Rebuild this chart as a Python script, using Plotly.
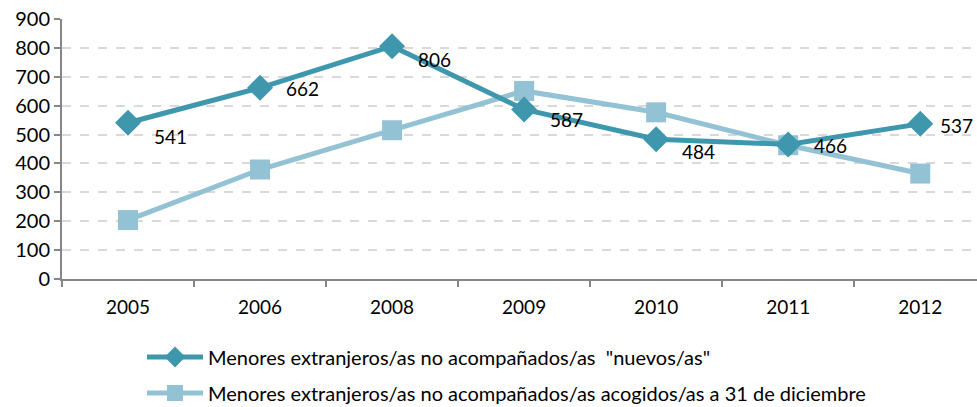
import plotly.graph_objects as go

years = ["2005", "2006", "2008", "2009", "2010", "2011", "2012"]
nuevos = [541, 662, 806, 587, 484, 466, 537]
acogidos = [204, 379, 515, 651, 577, 463, 365]
# label offsets (px) for the data labels of "nuevos"
label_dx = [42, 42, 42, 42, 42, 42, 36]
label_drop = [14, 1, 13, 10, 12, 1, 2]

name1 = 'Menores extranjeros/as no acompañados/as  "nuevos/as"'
name2 = "Menores extranjeros/as no acompañados/as acogidos/as a 31 de diciembre"

c1 = "#3F97AE"
c2 = "#92C2D4"
font = "Lato, Open Sans, sans-serif"

W, H = 977, 407
L, T, B = 62, 19, 128
PH = H - T - B
PW = W - L


def py(pix):
    return (H - B - pix) / PH


def px(pix):
    return (pix - L) / PW


fig = go.Figure()
fig.add_trace(go.Scatter(
    x=years, y=acogidos, name=name2, mode="lines+markers",
    line=dict(color=c2, width=5),
    marker=dict(symbol="square", size=20, color=c2),
    legend="legend2", cliponaxis=False,
))
fig.add_trace(go.Scatter(
    x=years, y=nuevos, name=name1, mode="lines+markers",
    line=dict(color=c1, width=5),
    marker=dict(symbol="diamond", size=20, color=c1),
    legend="legend", cliponaxis=False,
))

for i, (v, dx, d) in enumerate(zip(nuevos, label_dx, label_drop)):
    fig.add_annotation(x=i, y=v, xref="x", yref="y", text=str(v), showarrow=False,
                       xshift=dx, yshift=-d,
                       font=dict(family=font, size=19, color="#000000"))

fig.update_layout(
    width=W, height=H,
    margin=dict(l=L, r=0, t=T, b=B, autoexpand=False),
    paper_bgcolor="white", plot_bgcolor="white",
    font=dict(family=font, size=19, color="#000000"),
    showlegend=True,
    legend=dict(x=px(142), y=py(357), xanchor="left", yanchor="middle",
                bgcolor="rgba(0,0,0,0)", itemwidth=56,
                font=dict(family=font, size=20)),
    legend2=dict(x=px(142), y=py(393), xanchor="left", yanchor="middle",
                 bgcolor="rgba(0,0,0,0)", itemwidth=56,
                 font=dict(family=font, size=20)),
)
fig.update_xaxes(
    type="category", range=[-0.5, 6.43], automargin=False,
    showline=True, linecolor="#868686", linewidth=2,
    ticks="outside", tickson="boundaries", ticklen=6, tickcolor="#868686", tickwidth=2,
    showgrid=False, tickfont=dict(family=font, size=19), tickangle=0,
    ticklabelstandoff=10,
)
fig.update_yaxes(
    range=[0, 900], dtick=100, automargin=False, ticklabeloverflow="allow",
    showline=True, linecolor="#868686", linewidth=2,
    ticks="outside", ticklen=6, tickcolor="#868686", tickwidth=2,
    showgrid=True, gridcolor="#D9D9D9", griddash="dash", gridwidth=1.5,
    zeroline=False, tickfont=dict(family=font, size=20),
)

fig.write_html("out.html", config={"displayModeBar": False},
               post_script="document.body.style.margin='0px';")
